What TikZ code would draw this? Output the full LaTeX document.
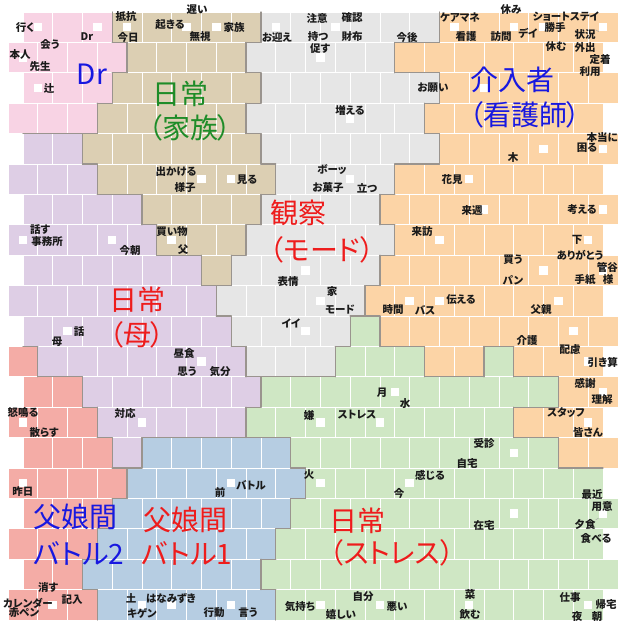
\documentclass[tikz,border=0pt]{standalone}
\usepackage{fontspec}
\newfontfamily\jp{Noto Sans CJK JP}[RawFeature=+palt]
\definecolor{r1}{HTML}{F8D3E4}
\definecolor{r2}{HTML}{DCCFB3}
\definecolor{r3}{HTML}{E6E6E6}
\definecolor{r4}{HTML}{FCD4A6}
\definecolor{r5}{HTML}{DECEE5}
\definecolor{r6}{HTML}{F4ACA6}
\definecolor{r7}{HTML}{B6CDE2}
\definecolor{r8}{HTML}{CFE7C4}
\definecolor{bdc}{HTML}{9A948E}
\definecolor{txt}{HTML}{1A1A1A}
\definecolor{bigred}{HTML}{EE1C1C}
\definecolor{bigblue}{HTML}{1818E0}
\definecolor{biggreen}{HTML}{1E8C28}
\def\gridrows{%
{1,1,1,2,2,2,2,2,3,3,3,3,3,3,4,4,4,4,4,4},%
{1,1,1,1,2,2,2,2,3,3,3,3,3,4,4,4,4,4,4,4},%
{1,1,1,2,2,2,2,2,3,3,3,3,3,3,4,4,4,4,4,4},%
{1,1,1,2,2,2,2,2,3,3,3,3,3,3,4,4,4,4,4,4},%
{5,5,2,2,2,2,2,2,3,3,3,3,3,3,4,4,4,4,4,4},%
{5,5,5,2,2,2,2,2,2,3,3,3,3,4,4,4,4,4,4,4},%
{5,5,5,5,2,2,2,2,3,3,3,3,4,4,4,4,4,4,4,4},%
{5,5,5,5,5,2,2,2,3,3,3,3,3,4,4,4,4,4,4,4},%
{5,5,5,5,5,5,2,3,3,3,3,3,4,4,4,4,4,4,4,4},%
{5,5,5,5,5,5,5,3,3,3,3,3,4,4,4,4,4,4,4,4},%
{5,5,5,5,5,5,5,3,3,3,3,8,4,4,4,4,4,4,4,4},%
{6,5,5,5,5,5,5,5,3,3,3,8,8,8,4,4,8,4,4,4},%
{6,6,5,5,5,5,5,5,8,8,8,8,8,8,8,8,8,8,4,4},%
{6,6,6,5,5,5,5,5,8,8,8,8,8,8,8,8,8,4,4,4},%
{6,6,6,5,7,7,7,7,7,8,8,8,8,8,8,8,8,8,4,4},%
{6,6,6,6,7,7,7,7,7,7,8,8,8,8,8,8,8,8,8,8},%
{6,6,6,7,7,7,7,7,7,8,8,8,8,8,8,8,8,8,8,8},%
{6,6,6,7,7,7,7,7,7,8,8,8,8,8,8,8,8,8,8,8},%
{6,6,7,7,7,7,7,7,8,8,8,8,8,8,8,8,8,8,8,8},%
{6,6,6,7,7,7,7,7,7,8,8,8,8,8,8,8,8,8,8,8}}
\newcommand\sqnode[3]{%
  \pgfmathsetmacro\sqx{(isodd(#2)?8:23)+(#3+0.5)*29.75}%
  \pgfmathsetmacro\sqy{12+(#2+0.5)*30.4}%
  \node[sq] (#1) at (\sqx,\sqy) {};}
\begin{document}
\begin{tikzpicture}[x=1pt,y=-1pt,
  lab/.style={font=\jp\bfseries\fontsize{10.5}{11}\selectfont,text=txt,inner sep=0pt},
  big/.style={font=\jp\fontsize{28}{30}\selectfont,inner sep=0pt},
  sq/.style={fill=white,minimum size=8.5pt,inner sep=0pt},
  bd/.style={draw=bdc,line width=1.2pt,line cap=round},
  lead/.style={draw=gray!70,line width=0.5pt}]
\useasboundingbox (0,0) rectangle (619,626);
\fill[white] (0,0) rectangle (619,626);
% cells
\foreach \row [count=\ri from 0] in \gridrows {
  \foreach \v [count=\ci from 0] in \row {
    \pgfmathsetmacro\xl{(isodd(\ri)?8:23)+\ci*29.75}
    \pgfmathsetmacro\yt{12+\ri*30.4}
    \fill[r\v] (\xl,\yt) rectangle ++(29.75,30.4);
    \expandafter\xdef\csname g@\ri @\ci\endcsname{\v}
  }
}
% white cell lines
\foreach \row [count=\ri from 0] in \gridrows {
  \foreach \v [count=\ci from 0] in \row {
    \pgfmathsetmacro\xl{(isodd(\ri)?8:23)+\ci*29.75}
    \pgfmathsetmacro\yt{12+\ri*30.4}
    \draw[white,line width=0.8pt] (\xl,\yt) rectangle ++(29.75,30.4);
  }
}
% vertical region boundaries
\foreach \ri in {0,...,19}{
  \foreach \ci in {0,...,18}{
    \pgfmathtruncatemacro\cn{\ci+1}
    \ifnum\csname g@\ri @\ci\endcsname=\csname g@\ri @\cn\endcsname\relax\else
      \pgfmathsetmacro\xb{(isodd(\ri)?8:23)+\cn*29.75}
      \pgfmathsetmacro\yt{12+\ri*30.4}
      \draw[bd] (\xb,\yt) -- ++(0,30.4);
    \fi
  }
}
% horizontal region boundaries
\foreach \ri in {0,...,18}{
  \pgfmathtruncatemacro\rj{\ri+1}
  \pgfmathsetmacro\yb{12+\rj*30.4}
  \foreach \j in {1,...,39}{
    \ifodd\ri\relax
      \pgfmathtruncatemacro\ca{\j/2}
      \pgfmathtruncatemacro\cb{(\j-1)/2}
    \else
      \pgfmathtruncatemacro\ca{(\j-1)/2}
      \pgfmathtruncatemacro\cb{\j/2}
    \fi
    \ifnum\csname g@\ri @\ca\endcsname=\csname g@\rj @\cb\endcsname\relax\else
      \pgfmathsetmacro\xa{8+\j*14.875}
      \draw[bd] (\xa,\yb) -- ++(14.875,0);
    \fi
  }
}
% white squares
\foreach \n/\r/\c in {s1/0/0,s2/0/2,s3/1/0,s4/2/0,s5/0/3,s6/0/5,s7/0/6,s8/0/8,s9/0/10,s10/1/10,
  s11/3/11,s12/5/6,s13/5/7,s14/5/11,s15/0/14,s16/0/16,s17/0/17,s18/0/19,s19/2/15,s20/4/17,
  s21/4/19,s22/5/15,s23/6/15,s24/6/19,s25/7/14,s26/7/19,s27/8/17,s28/8/19,s29/9/13,s30/9/14,
  s31/9/18,s32/10/18,s33/11/19,s34/12/19,s35/13/19,s36/14/16,s37/15/13,s38/16/16,s39/16/19,s40/19/15,
  s41/19/19,s42/19/12,s43/13/10,s44/13/12,s45/12/12,s46/15/10,s47/15/7,s48/19/10,s49/19/7,s50/13/0,
  s51/13/4,s52/15/0,s53/19/1,s54/19/4,s55/19/5,s56/7/0,s57/7/3,s58/7/5,s59/10/1,s60/11/6,
  s61/8/9,s62/9/10,s63/10/9}{\sqnode{\n}{\r}{\c}}
% small labels
\foreach \n/\x/\y/\t in {t1/25/28/行く,t2/87/37/Dr,t3/50/45/会う,t4/20/55/本人,t5/40/67/先生,
  t6/49/88/辻,t7/126/17/抵抗,t8/128/37/今日,t9/170/25/起きる,t10/197/10/遅い,
  t11/200/37/無視,t12/234/28/家族,t13/176/172/出かける,t14/185/188/様子,t15/247/180/見る,
  t16/277/37/お迎え,t17/317/18/注意,t18/352/18/確認,t19/318/37/持つ,t20/352/37/財布,
  t21/320/49/促す,t22/350/110/増える,t23/332/170/ボーッ,t24/328/188/お菓子,t25/367/188/立つ,
  t26/407/37/今後,t27/460/18/ケアマネ,t28/466/37/看護,t29/501/37/訪問,t30/511/10/休み,
  t31/528/33/デイ,t32/566/17/ショートステイ,t33/555/27/勝手,t34/585/35/状況,t35/556/47/休む,
  t36/585/48/外出,t37/600/60/定着,t38/590/72/利用,t39/433/88/お願い,t41/587/148/困る,
  t42/513/158/木,t43/452/180/花見,t44/472/210/来週,t45/582/210/考える,t46/422/232/来訪,
  t47/577/240/下,t48/580/255/ありがとう,t49/513/260/買う,t50/513/280/パン,t51/585/280/手紙,
  t52/608/280/様,t54/393/310/時間,t55/425/310/バス,t56/461/300/伝える,t57/541/310/父親,
  t58/527/340/介護,t59/570/350/配慮,t61/585/383/感謝,t62/602/400/理解,t63/566/413/スタッフ,
  t64/588/433/皆さん,t65/484/443/受診,t66/467/463/自宅,t67/430/475/感じる,t68/399/493/今,
  t69/484/525/在宅,t70/592/495/最近,t71/602/507/用意,t72/585/525/夕食,t73/596/538/食べる,
  t74/470/595/菜,t75/470/615/飲む,t76/570/598/仕事,t77/606/605/帰宅,t78/577/617/夜,
  t79/597/617/朝,t80/397/607/悪い,t81/363/597/自分,t82/309/415/嫌,t83/357/415/ストレス,
  t84/382/393/月,t85/405/404/水,t86/309/475/火,t87/251/485/バトル,t88/220/492/前,
  t89/300/607/気持ち,t90/341/615/嬉しい,t91/214/613/行動,t92/248/613/言う,t93/23/413/怒鳴る,
  t94/44/433/散らす,t95/125/413/対応,t96/23/492/昨日,t97/48/587/消す,t98/28/603/カレンダー,
  t99/72/600/記入,t100/24/613/赤ペン,t101/131/598/土,t102/171/598/はなみずき,t103/142/613/キゲン,
  t104/40/230/話す,t105/47/242/事務所,t106/130/250/今朝,t107/172/232/買い物,t108/183/250/父,
  t109/79/332/話,t110/57/342/母,t111/184/353/昼食,t112/187/372/思う,t113/220/372/気分,
  t114/288/282/表情,t115/332/292/家,t116/340/310/モード,t117/291/323/イイ}
  {\node[lab] (\n) at (\x,\y) {\t};}
\node[lab,anchor=east] (t40) at (618,138) {本当に};
\node[lab,anchor=east] (t53) at (618,267) {管谷};
\node[lab,anchor=east] (t60) at (618,362) {引き算};
% faint leader lines
\draw[lead] (t34.north east) -- (s18.south west);
\draw[lead] (t72.north east) -- (s39.south west);
% big labels
\node[big,text=bigblue] (b1) at (92,74) {Dr};
\node[big,text=biggreen] (b2) at (180,94) {日常};
\node[big,text=biggreen] (b3) at (190,128) {（家族）};
\node[big,text=bigred] (b4) at (298,213) {観察};
\node[big,text=bigred] (b5) at (322,250) {（モード）};
\node[big,text=bigblue] (b6) at (512,80) {介入者};
\node[big,text=bigblue] (b7) at (525,115) {（看護師）};
\node[big,text=bigred] (b8) at (137,300) {日常};
\node[big,text=bigred] (b9) at (137,335) {（母）};
\node[big,text=bigblue] (b10) at (75,517) {父娘間};
\node[big,text=bigblue] (b11) at (79,553) {バトル2};
\node[big,text=bigred] (b12) at (185,520) {父娘間};
\node[big,text=bigred] (b13) at (187,553) {バトル1};
\node[big,text=bigred] (b14) at (357,521) {日常};
\node[big,text=bigred] (b15) at (392,553) {（ストレス）};
\end{tikzpicture}
\end{document}
